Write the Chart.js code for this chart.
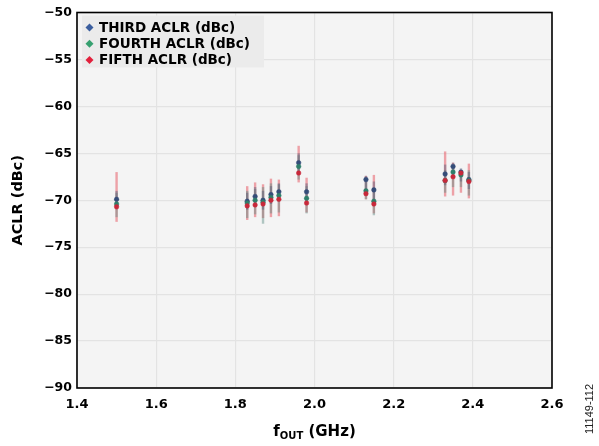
<!DOCTYPE html>
<html>
<head>
<meta charset="utf-8">
<script src="https://cdn.jsdelivr.net/npm/chart.js@4/dist/chart.umd.min.js"></script>
<style>
html,body{margin:0;padding:0;background:#fff;}
#wrap{width:599px;height:446px;position:relative;}
</style>
</head>
<body>
<div id="wrap"><canvas id="c" width="599" height="446"></canvas></div>
<script>
// ---- data ----
const freqGHz   = [1.50, 1.83, 1.85, 1.87, 1.89, 1.91, 1.96, 1.98, 2.13, 2.15, 2.33, 2.35, 2.37, 2.39];
const thirdACLR = [-69.9, -70.1, -69.6, -70.0, -69.4, -69.1, -66.0, -69.1, -67.8, -68.9, -67.2, -66.4, -67.0, -67.8];
const thirdHigh = [-69.0, -69.2, -68.6, -69.0, -68.5, -68.2, -65.0, -68.2, -67.4, -68.0, -66.2, -66.0, -66.6, -67.0];
const thirdLow  = [-70.9, -71.0, -70.6, -71.0, -70.4, -70.1, -67.0, -70.1, -68.8, -70.0, -68.4, -67.5, -68.0, -68.8];
const fourthACLR = [-70.4, -70.3, -70.0, -70.2, -69.7, -69.5, -66.4, -69.8, -69.0, -70.1, -67.9, -67.0, -67.3, -67.9];
const fourthHigh = [-69.2, -69.0, -68.8, -68.6, -68.2, -68.3, -65.2, -68.5, -68.0, -68.8, -66.8, -66.2, -66.8, -66.8];
const fourthLow  = [-71.8, -71.9, -71.5, -72.5, -71.4, -71.3, -67.8, -71.4, -69.9, -71.6, -69.2, -68.6, -68.6, -69.5];
const fifthACLR = [-70.7, -70.6, -70.5, -70.4, -70.0, -69.9, -67.1, -70.3, -69.3, -70.4, -67.9, -67.5, -67.1, -68.0];
const fifthHigh = [-67.0, -68.5, -68.1, -68.3, -67.7, -67.8, -64.2, -67.6, -67.4, -67.3, -64.8, -66.0, -66.8, -66.1];
const fifthLow  = [-72.3, -72.1, -71.8, -71.9, -71.8, -71.7, -68.1, -71.3, -69.9, -71.4, -69.6, -69.5, -69.2, -69.8];
const seriesNames = ['THIRD ACLR (dBc)', 'FOURTH ACLR (dBc)', 'FIFTH ACLR (dBc)'];
const xTicks = [1.4, 1.6, 1.8, 2.0, 2.2, 2.4, 2.6];
const yTicks = [-90, -85, -80, -75, -70, -65, -60, -55, -50];

const pts = (vals) => freqGHz.map((f, i) => ({x: f, y: vals[i]}));

const FONT = '"DejaVu Sans", Arial, sans-serif';

const datasets = [
  {label: seriesNames[2], data: pts(fifthACLR), errHigh: fifthHigh, errLow: fifthLow,
   color: '#c8283a', barColor: 'rgba(232,105,115,0.6)'},
  {label: seriesNames[1], data: pts(fourthACLR), errHigh: fourthHigh, errLow: fourthLow,
   color: '#2e7e6a', barColor: 'rgba(90,140,130,0.45)'},
  {label: seriesNames[0], data: pts(thirdACLR), errHigh: thirdHigh, errLow: thirdLow,
   color: '#344c78', barColor: 'rgba(80,90,120,0.45)'}
].map(d => Object.assign(d, {
  showLine: false, pointStyle: 'circle', pointRadius: 2.3, pointHoverRadius: 2.3,
  backgroundColor: d.color, borderColor: d.color, borderWidth: 0.5
}));

const bgPlugin = {
  id: 'bg',
  beforeDraw(chart) {
    const {ctx, chartArea: a} = chart;
    ctx.save();
    ctx.fillStyle = '#f4f4f4';
    ctx.fillRect(a.left, a.top, a.right - a.left, a.bottom - a.top);
    ctx.restore();
  }
};

const errPlugin = {
  id: 'errbars',
  beforeDatasetsDraw(chart) {
    const {ctx, scales: {x, y}} = chart;
    ctx.save();
    ctx.lineWidth = 2.4;
    chart.data.datasets.forEach(ds => {
      ctx.strokeStyle = ds.barColor;
      ds.data.forEach((p, i) => {
        const px = x.getPixelForValue(p.x);
        ctx.beginPath();
        ctx.moveTo(px, y.getPixelForValue(ds.errHigh[i]));
        ctx.lineTo(px, y.getPixelForValue(ds.errLow[i]));
        ctx.stroke();
      });
    });
    ctx.restore();
  }
};

const decoPlugin = {
  id: 'deco',
  afterDraw(chart) {
    const {ctx, chartArea: a} = chart;
    ctx.save();
    // frame
    ctx.strokeStyle = '#000';
    ctx.lineWidth = 1.6;
    ctx.strokeRect(a.left, a.top, a.right - a.left, a.bottom - a.top);
    // legend
    ctx.fillStyle = '#ebebeb';
    ctx.fillRect(a.left + 5, a.top + 3, 182, 52);
    const items = [
      [seriesNames[0], '#3b5e9e'],
      [seriesNames[1], '#36a070'],
      [seriesNames[2], '#e2203c']
    ];
    ctx.font = 'bold 13.5px ' + FONT;
    ctx.textBaseline = 'middle';
    ctx.textAlign = 'left';
    items.forEach((it, k) => {
      const cy = a.top + 15 + k * 16.3;
      const cx = a.left + 12.5;
      ctx.fillStyle = it[1];
      ctx.beginPath();
      ctx.moveTo(cx, cy - 4); ctx.lineTo(cx + 4, cy); ctx.lineTo(cx, cy + 4); ctx.lineTo(cx - 4, cy);
      ctx.closePath(); ctx.fill();
      ctx.fillStyle = '#000';
      ctx.fillText(it[0], a.left + 22, cy + 0.5);
    });
    // x title with subscript
    ctx.fillStyle = '#000';
    ctx.textBaseline = 'alphabetic';
    const p1 = 'f', p2 = 'OUT', p3 = ' (GHz)';
    const f1 = 'bold 15px ' + FONT, f2 = 'bold 10px ' + FONT;
    ctx.font = f1; const w1 = ctx.measureText(p1).width, w3 = ctx.measureText(p3).width;
    ctx.font = f2; const w2 = ctx.measureText(p2).width;
    let sx = (a.left + a.right) / 2 - (w1 + w2 + w3) / 2;
    const by = 436;
    ctx.font = f1; ctx.fillText(p1, sx, by); sx += w1;
    ctx.font = f2; ctx.fillText(p2, sx, by + 3); sx += w2;
    ctx.font = f1; ctx.fillText(p3, sx, by);
    // y title
    ctx.save();
    ctx.translate(18, (a.top + a.bottom) / 2);
    ctx.rotate(-Math.PI / 2);
    ctx.textAlign = 'center';
    ctx.textBaseline = 'middle';
    ctx.font = 'bold 14.5px ' + FONT;
    ctx.fillText('ACLR (dBc)', 0, 0);
    ctx.restore();
    // figure id
    ctx.save();
    ctx.translate(590, 409);
    ctx.rotate(-Math.PI / 2);
    ctx.textAlign = 'center';
    ctx.textBaseline = 'middle';
    ctx.font = '11px "Liberation Sans", Arial, sans-serif';
    ctx.fillStyle = '#222';
    ctx.fillText('11149-112', 0, 0);
    ctx.restore();
    ctx.restore();
  }
};

new Chart(document.getElementById('c'), {
  type: 'scatter',
  data: {datasets},
  options: {
    responsive: false,
    animation: false,
    events: [],
    layout: {padding: {top: 12, right: 47, left: 0, bottom: 0}},
    plugins: {legend: {display: false}, tooltip: {enabled: false}},
    scales: {
      x: {
        type: 'linear', min: 1.4, max: 2.6,
        afterBuildTicks: s => { s.ticks = xTicks.map(v => ({value: v})); },
        afterFit: s => { s.height = 58; },
        grid: {color: '#e3e3e3', lineWidth: 1.2, drawTicks: false},
        border: {display: false},
        ticks: {padding: 9, color: '#000', font: {family: FONT, size: 13, weight: 'bold'},
                callback: v => Number(v).toFixed(1)}
      },
      y: {
        type: 'linear', min: -90, max: -50,
        afterBuildTicks: s => { s.ticks = yTicks.map(v => ({value: v})); },
        afterFit: s => { s.width = 77; },
        grid: {color: '#e3e3e3', lineWidth: 1.2, drawTicks: false},
        border: {display: false},
        ticks: {padding: 5, color: '#000', font: {family: FONT, size: 12.5, weight: 'bold'},
                callback: v => String(v).replace('-', '\u2212')}
      }
    }
  },
  plugins: [bgPlugin, errPlugin, decoPlugin]
});
</script>
</body>
</html>
